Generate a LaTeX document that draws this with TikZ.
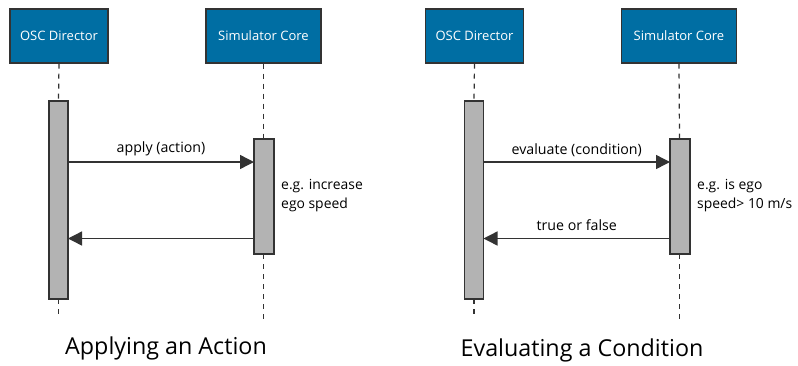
\documentclass[tikz,border=0pt]{standalone}
\usepackage{fontspec}
\setmainfont{Open Sans}
\usetikzlibrary{arrows.meta}
\definecolor{boxblue}{HTML}{006EA3}
\definecolor{edgegray}{HTML}{333333}
\definecolor{actgray}{HTML}{B3B3B3}
\begin{document}
\begin{tikzpicture}[x=1pt,y=-1pt,
  actor/.style={draw=edgegray,line width=1.3pt,fill=boxblue,text=white,minimum height=54pt,inner sep=0pt,font=\fontsize{13}{15}\selectfont},
  actbar/.style={draw=edgegray,line width=1.3pt,fill=actgray},
  life/.style={draw=edgegray,line width=1.2pt,dash pattern=on 5pt off 5pt},
  msg/.style={draw=edgegray,line width=1.4pt,-{Triangle[length=14pt,width=14pt]}},
  lbl/.style={font=\fontsize{14.2}{17}\selectfont,text=black,inner sep=1pt},
  note/.style={font=\fontsize{13.9}{19}\selectfont,align=left,anchor=north west,inner sep=0pt},
  caption/.style={font=\fontsize{23.3}{28}\selectfont}]
\useasboundingbox (0,0) rectangle (798,365);
% ---------- left panel ----------
\node[actor,minimum width=98pt] (osc1) at (59,36) {OSC Director};
\node[actor,minimum width=115pt] (sim1) at (263.5,36) {Simulator Core};
\draw[actbar] (49,101) rectangle (68,299);
\coordinate (a1t) at (58.5,101); \coordinate (a1b) at (58.5,299);
\coordinate (a1e) at (58.5,316);
\draw[actbar] (254,139) rectangle (274,254);
\coordinate (s1t) at (263.5,139); \coordinate (s1b) at (263.5,254);
\coordinate (s1e) at (263.5,321);
\draw[life] (osc1.south) -- (a1t);
\draw[life] (a1b) -- (a1e);
\draw[life] (sim1.south) -- (s1t);
\draw[life] (s1b) -- (s1e);
\coordinate (m1a) at (68,162); \coordinate (m1b) at (254,162);
\draw[msg] (m1a) -- node[lbl,above=4pt] {apply (action)} (m1b);
\coordinate (r1a) at (254,238.5); \coordinate (r1b) at (68,238.5);
\draw[msg] (r1a) -- (r1b);
\node[note] (n1) at (281,179) {e.g. increase\\ego speed};
\node[caption] (c1) at (166,348) {Applying an Action};
% ---------- right panel ----------
\node[actor,minimum width=98pt] (osc2) at (474.5,36) {OSC Director};
\node[actor,minimum width=115pt] (sim2) at (679,36) {Simulator Core};
\draw[actbar] (464.5,101) rectangle (483.5,299);
\coordinate (a2t) at (474,101); \coordinate (a2b) at (474,299);
\coordinate (a2e) at (474,316);
\draw[actbar] (670,139) rectangle (690,254);
\coordinate (s2t) at (679.5,139); \coordinate (s2b) at (679.5,254);
\coordinate (s2e) at (679.5,321);
\draw[life] (osc2.south) -- (a2t);
\draw[life] (a2b) -- (a2e);
\draw[life] (sim2.south) -- (s2t);
\draw[life] (s2b) -- (s2e);
\coordinate (m2a) at (483.5,162); \coordinate (m2b) at (670,162);
\draw[msg] (m2a) -- node[lbl,above=4pt] {evaluate (condition)} (m2b);
\coordinate (r2a) at (670,238.5); \coordinate (r2b) at (483.5,238.5);
\draw[msg] (r2a) -- node[lbl,above=6pt] {true or false} (r2b);
\node[note] (n2) at (697,179) {e.g. is ego\\speed> 10 m/s};
\node[caption] (c2) at (582,350) {Evaluating a Condition};
\end{tikzpicture}
\end{document}
